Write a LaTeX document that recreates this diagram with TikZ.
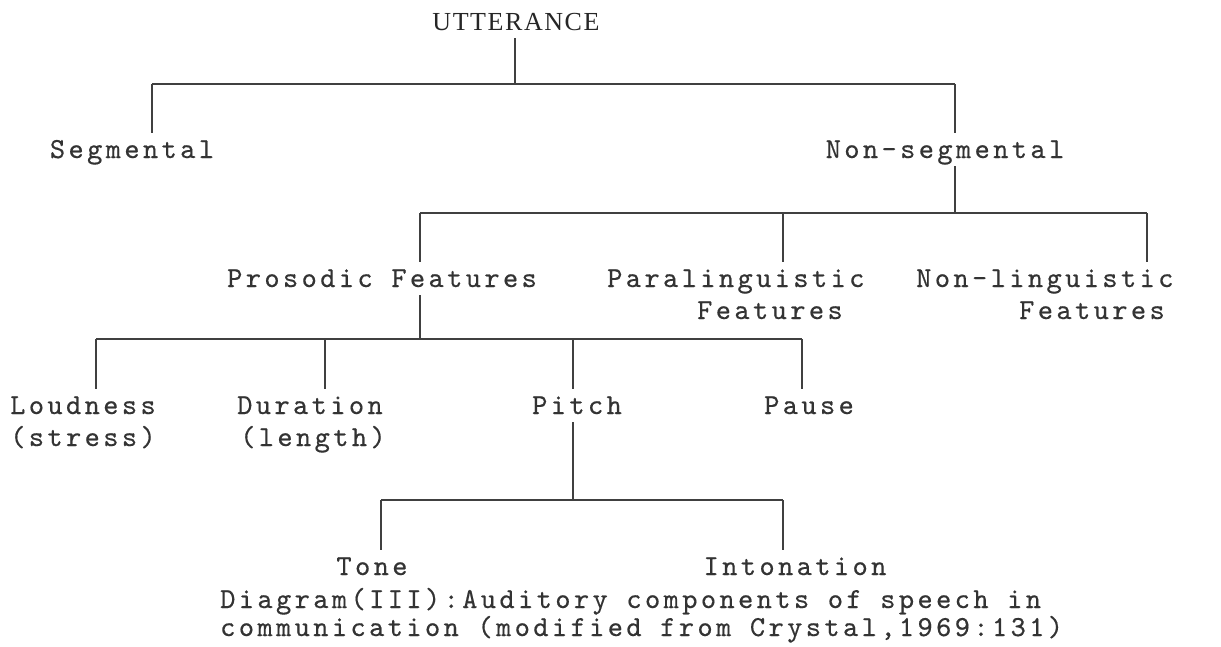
\documentclass[tikz,border=0pt]{standalone}
\usepackage{fontspec}
\newfontfamily\serifhead[LetterSpace=6]{Liberation Serif}
\newfontfamily\lmtyp[LetterSpace=11.7,FakeBold=0.4]{lmmono10-regular.otf}
\newcommand\typew{\lmtyp\fontsize{29}{32}\selectfont}
\newcommand\typewcap{\lmtyp\fontsize{29}{28}\selectfont}
\begin{document}
\begin{tikzpicture}[x=1pt,y=-1pt,
  lbl/.style={font=\typew, text=black!80, inner xsep=0pt, inner ysep=8pt, text height=17pt, text depth=0pt, anchor=base},
  lblL/.style={lbl, anchor=base west, align=left, text height=49pt},
  head/.style={font=\serifhead\fontsize{26}{30}\selectfont, text=black!85, inner xsep=0pt, inner ysep=8pt, text height=17pt, text depth=0pt, anchor=base},
  capt/.style={font=\typewcap, text=black!80, inner sep=0pt, anchor=base west, align=left},
  conn/.style={draw=black!75, line width=1.1pt}]
\useasboundingbox[fill=white] (0,0) rectangle (1221,646);

% labels (multi-line nodes are placed by their last baseline)
\node[head] (utt) at (516,30) {UTTERANCE};
\node[lbl] (seg) at (132,158) {Segmental};
\node[lbl] (nonseg) at (945,158) {Non-segmental};
\node[lbl] (pros) at (382,287) {Prosodic Features};
\node[lblL] (para) at (607,319) {Paralinguistic\\\hspace*{90pt}Features};
\node[lblL] (nonling) at (916,319) {Non-linguistic\\\hspace*{103pt}Features};
\node[lblL] (loud) at (10,446) {Loudness\\(stress)};
\node[lblL] (dur) at (237,446) {Duration\\\hspace*{3pt}(length)};
\node[lbl] (pitch) at (577,414) {Pitch};
\node[lbl] (pause) at (809,414) {Pause};
\node[lbl] (tone) at (372,575) {Tone};
\node[lbl] (inton) at (795,575) {Intonation};
\node[capt] (cap) at (220,636) {Diagram(III):Auditory components of speech in\\communication (modified from Crystal,1969:131)};

% junction coordinates
\coordinate (k1) at (515,84);
\coordinate (k1L) at (152,84);
\coordinate (k1R) at (955,84);
\coordinate (k2) at (955,213);
\coordinate (k2L) at (420,213);
\coordinate (k2M) at (783,213);
\coordinate (k2R) at (1147,213);
\coordinate (k3) at (420,339);
\coordinate (k3A) at (96,339);
\coordinate (k3B) at (325,339);
\coordinate (k3C) at (573,339);
\coordinate (k3D) at (802,339);
\coordinate (k4) at (573,500);
\coordinate (k4L) at (381,500);
\coordinate (k4R) at (783,500);

% level 1
\draw[conn] (utt.south -| k1) -- (k1);
\draw[conn] (k1L) -- (k1R);
\draw[conn] (k1L) -- (k1L |- seg.north);
\draw[conn] (k1R) -- (k1R |- nonseg.north);
% level 2
\draw[conn] (k1R |- nonseg.south) -- (k2);
\draw[conn] (k2L) -- (k2R);
\draw[conn] (k2L) -- (k2L |- pros.north);
\draw[conn] (k2M) -- (k2M |- para.north);
\draw[conn] (k2R) -- (k2R |- nonling.north);
% level 3
\draw[conn] (k2L |- pros.south) -- (k3);
\draw[conn] (k3A) -- (k3D);
\draw[conn] (k3A) -- (k3A |- loud.north);
\draw[conn] (k3B) -- (k3B |- dur.north);
\draw[conn] (k3C) -- (k3C |- pitch.north);
\draw[conn] (k3D) -- (k3D |- pause.north);
% level 4
\draw[conn] (k3C |- pitch.south) -- (k4);
\draw[conn] (k4L) -- (k4R);
\draw[conn] (k4L) -- (k4L |- tone.north);
\draw[conn] (k4R) -- (k4R |- inton.north);
\end{tikzpicture}
\end{document}
